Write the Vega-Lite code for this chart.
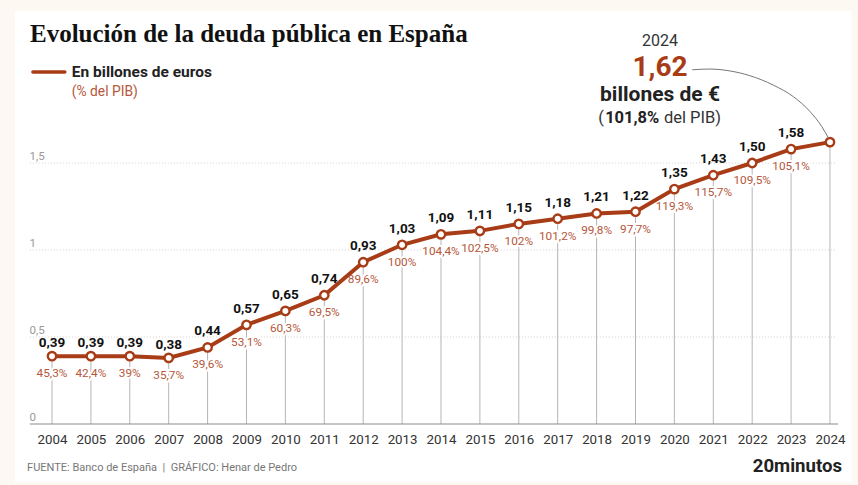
{
  "$schema": "https://vega.github.io/schema/vega-lite/v6.json",
  "width": 837,
  "height": 471,
  "autosize": "none",
  "padding": {"left": 15, "top": 11, "right": 6, "bottom": 3},
  "background": "#fdf9f2",
  "config": {"view": {"stroke": null, "fill": "#ffffff"}, "font": "Roboto"},
  "title": {
    "text": "Evolución de la deuda pública en España",
    "anchor": "start",
    "frame": "group",
    "orient": "top",
    "dx": 15,
    "offset": -36,
    "font": "Liberation Serif",
    "fontSize": 25,
    "fontWeight": "bold",
    "color": "#111111"
  },
  "data": {
    "values": [
      {"anio": 2004, "valor": 0.39, "deuda": "0,39", "pib": "45,3%"},
      {"anio": 2005, "valor": 0.39, "deuda": "0,39", "pib": "42,4%"},
      {"anio": 2006, "valor": 0.39, "deuda": "0,39", "pib": "39%"},
      {"anio": 2007, "valor": 0.38, "deuda": "0,38", "pib": "35,7%"},
      {"anio": 2008, "valor": 0.44, "deuda": "0,44", "pib": "39,6%"},
      {"anio": 2009, "valor": 0.57, "deuda": "0,57", "pib": "53,1%"},
      {"anio": 2010, "valor": 0.65, "deuda": "0,65", "pib": "60,3%"},
      {"anio": 2011, "valor": 0.74, "deuda": "0,74", "pib": "69,5%"},
      {"anio": 2012, "valor": 0.93, "deuda": "0,93", "pib": "89,6%"},
      {"anio": 2013, "valor": 1.03, "deuda": "1,03", "pib": "100%"},
      {"anio": 2014, "valor": 1.09, "deuda": "1,09", "pib": "104,4%"},
      {"anio": 2015, "valor": 1.11, "deuda": "1,11", "pib": "102,5%"},
      {"anio": 2016, "valor": 1.15, "deuda": "1,15", "pib": "102%"},
      {"anio": 2017, "valor": 1.18, "deuda": "1,18", "pib": "101,2%"},
      {"anio": 2018, "valor": 1.21, "deuda": "1,21", "pib": "99,8%"},
      {"anio": 2019, "valor": 1.22, "deuda": "1,22", "pib": "97,7%"},
      {"anio": 2020, "valor": 1.35, "deuda": "1,35", "pib": "119,3%"},
      {"anio": 2021, "valor": 1.43, "deuda": "1,43", "pib": "115,7%"},
      {"anio": 2022, "valor": 1.50, "deuda": "1,50", "pib": "109,5%"},
      {"anio": 2023, "valor": 1.58, "deuda": "1,58", "pib": "105,1%"},
      {"anio": 2024, "valor": 1.62, "deuda": "", "pib": ""}
    ]
  },
  "encoding": {
    "x": {
      "field": "anio",
      "type": "quantitative",
      "scale": {"domain": [2003.049, 2024.566], "nice": false, "zero": false},
      "axis": {
        "title": null,
        "values": [2004, 2005, 2006, 2007, 2008, 2009, 2010, 2011, 2012, 2013, 2014, 2015, 2016, 2017, 2018, 2019, 2020, 2021, 2022, 2023, 2024],
        "format": "d",
        "offset": -58,
        "domain": false,
        "ticks": false,
        "grid": false,
        "labelPadding": 8,
        "labelFontSize": 13.3,
        "labelColor": "#333333"
      }
    },
    "y": {
      "field": "valor",
      "type": "quantitative",
      "scale": {"domain": [-0.3333, 2.3736], "nice": false, "zero": false},
      "axis": {
        "title": null,
        "values": [0, 0.5, 1, 1.5],
        "labelExpr": "replace(datum.value + '', '.', ',')",
        "offset": -14,
        "domain": false,
        "ticks": false,
        "grid": false,
        "labelAlign": "left",
        "labelBaseline": "bottom",
        "labelPadding": 0,
        "labelOffset": -2,
        "labelFontSize": 11.5,
        "labelColor": "#999999"
      }
    }
  },
  "layer": [
    {
      "data": {"values": [
        {"anio": 2003.43, "anio2": 2024.14, "valor": 0.5},
        {"anio": 2003.43, "anio2": 2024.14, "valor": 1},
        {"anio": 2003.43, "anio2": 2024.14, "valor": 1.5}
      ]},
      "mark": {"type": "rule", "color": "#cfcfcf", "strokeWidth": 1, "strokeDash": [1, 2]},
      "encoding": {"x2": {"field": "anio2"}}
    },
    {
      "mark": {"type": "rule", "color": "#b5b5b5", "strokeWidth": 1},
      "encoding": {"y2": {"datum": 0}}
    },
    {
      "data": {"values": [{"anio": 2003.43, "anio2": 2024.21, "valor": 0}]},
      "mark": {"type": "rule", "color": "#8a8a8a", "strokeWidth": 1},
      "encoding": {"x2": {"field": "anio2"}}
    },
    {
      "mark": {"type": "text", "dy": 17, "fontSize": 11.8, "stroke": "#ffffff", "strokeWidth": 4, "fill": "#ffffff"},
      "encoding": {"text": {"field": "pib"}}
    },
    {
      "mark": {"type": "line", "color": "#a83c16", "strokeWidth": 4},
      "encoding": {"order": {"field": "anio"}}
    },
    {
      "mark": {"type": "point", "shape": "circle", "filled": true, "fill": "#ffffff", "stroke": "#a83c16", "strokeWidth": 2.4, "size": 70, "opacity": 1}
    },
    {
      "mark": {"type": "text", "dy": 17, "fontSize": 11.8, "color": "#b5573a"},
      "encoding": {"text": {"field": "pib"}}
    },
    {
      "transform": [{"filter": "datum.anio <= 2007"}],
      "mark": {"type": "text", "dy": -13, "fontSize": 13.5, "fontWeight": "bold", "color": "#111111"},
      "encoding": {"text": {"field": "deuda"}}
    },
    {
      "transform": [{"filter": "datum.anio > 2007"}],
      "mark": {"type": "text", "dy": -16, "fontSize": 13.5, "fontWeight": "bold", "color": "#111111"},
      "encoding": {"text": {"field": "deuda"}}
    },
    {
      "data": {"values": [
        {"anio": 2020.46, "valor": 2.036},
        {"anio": 2020.915, "valor": 2.04},
        {"anio": 2021.43, "valor": 2.029},
        {"anio": 2021.94, "valor": 2.002},
        {"anio": 2022.54, "valor": 1.948},
        {"anio": 2023.06, "valor": 1.881},
        {"anio": 2023.49, "valor": 1.795},
        {"anio": 2023.79, "valor": 1.709},
        {"anio": 2023.96, "valor": 1.644}
      ]},
      "mark": {"type": "line", "color": "#777777", "strokeWidth": 1, "interpolate": "monotone"}
    },
    {
      "data": {"values": [{"anio": 2003.51, "anio2": 2004.33, "valor": 2.023}]},
      "mark": {"type": "rule", "color": "#a83c16", "strokeWidth": 3.5, "strokeCap": "round"},
      "encoding": {"x2": {"field": "anio2"}}
    },
    {
      "data": {"values": [{"anio": 2004.51, "valor": 2.023, "texto": "En billones de euros"}]},
      "mark": {"type": "text", "align": "left", "fontSize": 15.5, "fontWeight": "bold", "color": "#222222"},
      "encoding": {"text": {"field": "texto"}}
    },
    {
      "data": {"values": [{"anio": 2004.51, "valor": 1.908, "texto": "(% del PIB)"}]},
      "mark": {"type": "text", "align": "left", "fontSize": 13.8, "color": "#b5573a"},
      "encoding": {"text": {"field": "texto"}}
    },
    {
      "data": {"values": [{"anio": 2019.63, "valor": 2.201, "texto": "2024"}]},
      "mark": {"type": "text", "fontSize": 16, "color": "#333333"},
      "encoding": {"text": {"field": "texto"}}
    },
    {
      "data": {"values": [{"anio": 2019.63, "valor": 2.046, "texto": "1,62"}]},
      "mark": {"type": "text", "fontSize": 28, "fontWeight": "bold", "color": "#a83c16"},
      "encoding": {"text": {"field": "texto"}}
    },
    {
      "data": {"values": [{"anio": 2019.63, "valor": 1.888, "texto": "billones de €"}]},
      "mark": {"type": "text", "fontSize": 21, "fontWeight": "bold", "color": "#222222"},
      "encoding": {"text": {"field": "texto"}}
    },
    {
      "data": {"values": [
        {"anio": 2018.04, "valor": 1.759, "texto": "("},
        {"anio": 2019.73, "valor": 1.759, "texto": "del PIB)"}
      ]},
      "mark": {"type": "text", "align": "left", "fontSize": 16.5, "color": "#333333"},
      "encoding": {"text": {"field": "texto"}}
    },
    {
      "data": {"values": [{"anio": 2018.22, "valor": 1.759, "texto": "101,8%"}]},
      "mark": {"type": "text", "align": "left", "fontSize": 16.5, "fontWeight": "bold", "color": "#222222"},
      "encoding": {"text": {"field": "texto"}}
    },
    {
      "data": {"values": [{"anio": 2003.36, "valor": -0.253, "texto": "FUENTE: Banco de España\u00a0\u00a0|\u00a0\u00a0GRÁFICO: Henar de Pedro"}]},
      "mark": {"type": "text", "align": "left", "fontSize": 11, "color": "#777777"},
      "encoding": {"text": {"field": "texto"}}
    },
    {
      "data": {"values": [{"anio": 2024.31, "valor": -0.241, "texto": "20minutos"}]},
      "mark": {"type": "text", "align": "right", "fontSize": 18.6, "fontWeight": "bold", "color": "#222222"},
      "encoding": {"text": {"field": "texto"}}
    }
  ]
}
